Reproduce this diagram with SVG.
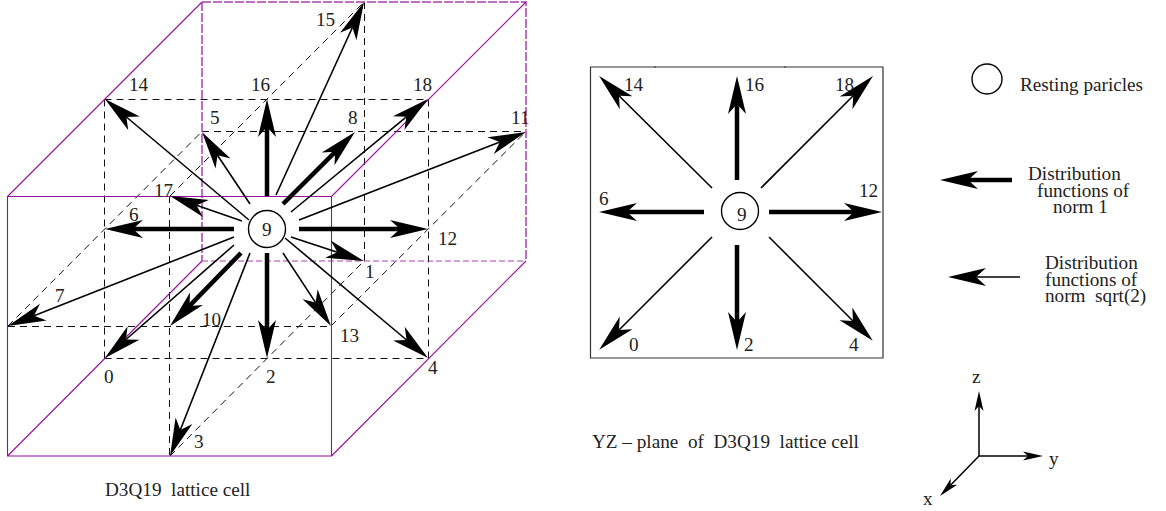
<svg xmlns="http://www.w3.org/2000/svg" width="1166" height="511" viewBox="0 0 1166 511">
<style>
text{font-family:"Liberation Serif","Times New Roman",serif;font-size:19.2px;fill:#222;white-space:pre}
.p{fill:none;stroke:#990f99;stroke-width:1.1}
.pd{fill:none;stroke:#a93fb0;stroke-width:1.5;stroke-dasharray:9 2}
.pb{fill:none;stroke:#a93fb0;stroke-width:1.1;stroke-dasharray:6 3}
.d{fill:none;stroke:#111;stroke-width:1;stroke-dasharray:7 5}
.t{fill:none;stroke:#000;stroke-width:1.6;marker-end:url(#h)}
.k{fill:none;stroke:#000;stroke-width:4.5;marker-end:url(#h)}
.a{fill:none;stroke:#000;stroke-width:1.5;marker-end:url(#s)}
circle{fill:#fff;stroke:#000;stroke-width:1.4}
</style>
<defs>
<marker id="h" markerUnits="userSpaceOnUse" markerWidth="40" markerHeight="20" refX="10" refY="9" orient="auto" overflow="visible"><path d="M0,0 L38,9 L0,18 L10,9 Z" fill="#000"/></marker>
<marker id="s" markerUnits="userSpaceOnUse" markerWidth="22" markerHeight="12" refX="5" refY="5" orient="auto" overflow="visible"><path d="M0,0.5 L20,5 L0,9.5 L5,5 Z" fill="#000"/></marker>
</defs>
<g id="lattice-frame">
<path class="d" d="M104.5,99.5H428.5M104.5,99.5V358.5M428.5,99.5V358.5M104.5,358.5H428.5M202,131.5H526M8,326.5H331M169.5,196V456M364.5,2V261M170,196L364,2M8,326L202,131.5M331,326L526,131.5M170,456L364,261"/>
<path class="pd" d="M202,2V261M202,2H526V261"/>
<path class="pb" d="M202,261H526"/>
<path class="p" d="M7.5,196.5H331.5V456H7.5ZM7.5,196.5L202,2M331.5,196.5L526,2M331.5,456L526,261M7.5,456L202,261"/>
</g>
<g id="connectors">
<path class="t" d="M249,220L126.4,117"/>
<path class="t" d="M250,204L217.5,155.3"/>
<path class="k" d="M267,196V127"/>
<path class="t" d="M242,221L196.5,205.2"/>
<path class="k" d="M234,229H133"/>
<path class="t" d="M276,195L352.4,27.5"/>
<path class="k" d="M283,204L335.2,151.8"/>
<path class="t" d="M291,212L406.4,116.8"/>
<path class="t" d="M299,220L499.9,142.1"/>
<path class="k" d="M299,229H400"/>
<path class="t" d="M291,237L337.4,252.3"/>
<path class="t" d="M285,238L406.6,340"/>
<path class="t" d="M283,253L315.6,302.6"/>
<path class="k" d="M267,253V330"/>
<path class="k" d="M241,253L189.5,305.9"/>
<path class="t" d="M250,253L180.3,430"/>
<path class="t" d="M234,245L126,339.5"/>
<path class="t" d="M234,237L34,315.8"/>
<path class="t" d="M712,188L619,95.7"/>
<path class="k" d="M737,180V104"/>
<path class="t" d="M761,188L853.2,95.8"/>
<path class="k" d="M704,212H627"/>
<path class="k" d="M769,212H854"/>
<path class="t" d="M712,237L619,330"/>
<path class="k" d="M737,245V322"/>
<path class="t" d="M769,237L853,321"/>
<path class="k" d="M1012,180H968"/>
<path class="t" d="M1020,277H976"/>
<path class="a" d="M979,456V406"/>
<path class="a" d="M979,456H1028"/>
<path class="a" d="M979,456L950.5,485.3"/>
</g>
<g id="node-9-cube"><circle cx="267" cy="229" r="18.5"/><text x="262" y="236">9</text></g>
<g id="cube-labels">
<text x="129" y="91">14</text><text x="251" y="91">16</text><text x="210" y="124">5</text><text x="154" y="197">17</text><text x="129" y="221">6</text><text x="316" y="26">15</text><text x="413" y="91">18</text><text x="348" y="124">8</text><text x="511" y="124">11</text><text x="438" y="245">12</text><text x="365" y="278">1</text><text x="340" y="342">13</text><text x="428" y="374">4</text><text x="266" y="383">2</text><text x="104" y="383">0</text><text x="55" y="302">7</text><text x="202" y="326">10</text><text x="194" y="448">3</text>
<text x="105" y="496">D3Q19  lattice cell</text>
</g>
<g id="plane">
<path d="M590.5,67H883V358H590.5Z" fill="none" stroke="#333" stroke-width="1.2"/>
<path d="M655,66V68M785,66V68" stroke="#333" stroke-width="1"/>
</g>
<g id="node-9-plane"><circle cx="740" cy="211" r="18.5"/><text x="737" y="221">9</text></g>
<g id="plane-labels">
<text x="624" y="91">14</text><text x="745" y="91">16</text><text x="835" y="91">18</text><text x="859" y="197">12</text><text x="599" y="205">6</text><text x="629" y="351">0</text><text x="744" y="351">2</text><text x="849" y="351">4</text>
<text x="592" y="448">YZ – plane  of  D3Q19  lattice cell</text>
</g>
<g id="legend">
<circle cx="987" cy="79" r="15"/>
<text x="1020" y="91">Resting paricles</text>
<text x="1028" y="180">Distribution</text><text x="1037" y="197">functions of</text><text x="1053" y="213">norm 1</text>
<text x="1045" y="269">Distribution</text><text x="1045" y="286">functions of</text><text x="1045" y="302">norm  sqrt(2)</text>
</g>
<g id="axes">
<text x="972" y="383">z</text><text x="1049" y="465">y</text><text x="923" y="505">x</text>
</g>
</svg>
